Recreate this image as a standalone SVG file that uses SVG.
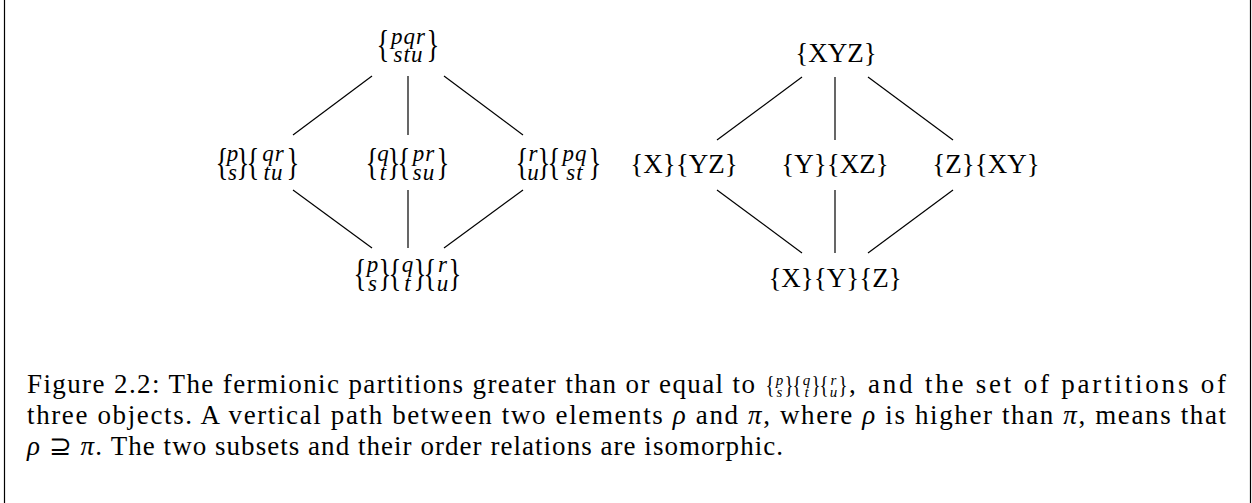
<svg xmlns="http://www.w3.org/2000/svg" width="1252" height="503" viewBox="0 0 1252 503">
<style>
.br{font-family:"Liberation Serif",serif;font-size:37px;text-anchor:middle;fill:#000}
.mi{font-family:"Liberation Serif",serif;font-style:italic;font-size:23px;text-anchor:middle;letter-spacing:1px;fill:#000}
.rm{font-family:"Liberation Serif",serif;font-size:27px;text-anchor:middle;fill:#000}
.cap{font-family:"Liberation Serif",serif;font-size:27px;fill:#000}
.cbr{font-family:"Liberation Serif",serif;font-size:25px;text-anchor:middle;fill:#000}
.cmi{font-family:"Liberation Serif",serif;font-style:italic;font-size:15px;text-anchor:middle;fill:#000}
.edge{stroke:#000;stroke-width:1.2;fill:none}
.frame{stroke:#000;stroke-width:1.2}
</style>
<rect width="1252" height="503" fill="#fff"/>
<line class="frame" x1="4.5" y1="0" x2="4.5" y2="503"/>
<line class="frame" x1="1250.5" y1="0" x2="1250.5" y2="503"/>

<g id="connectors">
<line class="edge" x1="372" y1="76" x2="293" y2="135"/>
<line class="edge" x1="408" y1="76" x2="408" y2="135"/>
<line class="edge" x1="444" y1="76" x2="523" y2="135"/>
<line class="edge" x1="293" y1="190" x2="372" y2="248"/>
<line class="edge" x1="408" y1="190" x2="408" y2="248"/>
<line class="edge" x1="523" y1="190" x2="444" y2="248"/>
<line class="edge" x1="802" y1="77" x2="717" y2="140"/>
<line class="edge" x1="835" y1="77" x2="835" y2="140"/>
<line class="edge" x1="868" y1="77" x2="953" y2="140"/>
<line class="edge" x1="717" y1="190" x2="802" y2="253"/>
<line class="edge" x1="835" y1="190" x2="835" y2="253"/>
<line class="edge" x1="953" y1="190" x2="868" y2="253"/>
</g>

<g id="f-top">
<text class="br" transform="translate(383,57) scale(0.72,1)">{</text>
<text class="mi" x="408.5" y="44">pqr</text>
<text class="mi" x="408.5" y="62">stu</text>
<text class="br" transform="translate(433,57) scale(0.72,1)">}</text>
</g>

<g id="f-ps-qrtu">
<text class="br" transform="translate(222,175) scale(0.72,1)">{</text>
<text class="mi" x="233" y="161">p</text>
<text class="mi" x="233" y="180">s</text>
<text class="br" transform="translate(243,175) scale(0.72,1)">}</text>
<text class="br" transform="translate(253,175) scale(0.72,1)">{</text>
<text class="mi" x="273.5" y="161">qr</text>
<text class="mi" x="273.5" y="180">tu</text>
<text class="br" transform="translate(293,175) scale(0.72,1)">}</text>
</g>

<g id="f-qt-prsu">
<text class="br" transform="translate(372,175) scale(0.72,1)">{</text>
<text class="mi" x="383.5" y="161">q</text>
<text class="mi" x="383.5" y="180">t</text>
<text class="br" transform="translate(394,175) scale(0.72,1)">}</text>
<text class="br" transform="translate(404,175) scale(0.72,1)">{</text>
<text class="mi" x="424" y="161">pr</text>
<text class="mi" x="424" y="180">su</text>
<text class="br" transform="translate(443,175) scale(0.72,1)">}</text>
</g>

<g id="f-ru-pqst">
<text class="br" transform="translate(522,175) scale(0.72,1)">{</text>
<text class="mi" x="533.5" y="161">r</text>
<text class="mi" x="533.5" y="180">u</text>
<text class="br" transform="translate(544,175) scale(0.72,1)">}</text>
<text class="br" transform="translate(554,175) scale(0.72,1)">{</text>
<text class="mi" x="575" y="161">pq</text>
<text class="mi" x="575" y="180">st</text>
<text class="br" transform="translate(595,175) scale(0.72,1)">}</text>
</g>

<g id="f-bottom">
<text class="br" transform="translate(360,286) scale(0.72,1)">{</text>
<text class="mi" x="373" y="272">p</text>
<text class="mi" x="373" y="291">s</text>
<text class="br" transform="translate(385,286) scale(0.72,1)">}</text>
<text class="br" transform="translate(395,286) scale(0.72,1)">{</text>
<text class="mi" x="408" y="272">q</text>
<text class="mi" x="408" y="291">t</text>
<text class="br" transform="translate(420,286) scale(0.72,1)">}</text>
<text class="br" transform="translate(430,286) scale(0.72,1)">{</text>
<text class="mi" x="443" y="272">r</text>
<text class="mi" x="443" y="291">u</text>
<text class="br" transform="translate(455,286) scale(0.72,1)">}</text>
</g>

<g id="p-xyz"><text class="rm" x="836" y="62">{XYZ}</text></g>
<g id="p-x-yz"><text class="rm" x="684" y="173">{X}{YZ}</text></g>
<g id="p-y-xz"><text class="rm" x="835" y="173">{Y}{XZ}</text></g>
<g id="p-z-xy"><text class="rm" x="986" y="173">{Z}{XY}</text></g>
<g id="p-x-y-z"><text class="rm" x="835" y="287">{X}{Y}{Z}</text></g>

<g id="caption">
<text class="cap" x="27" y="393" textLength="728" lengthAdjust="spacing">Figure 2.2: The fermionic partitions greater than or equal to</text>
<text class="cbr" transform="translate(770,393) scale(0.75,1)">{</text>
<text class="cmi" x="779.5" y="385">p</text>
<text class="cmi" x="779.5" y="397">s</text>
<text class="cbr" transform="translate(789,393) scale(0.75,1)">}</text>
<text class="cbr" transform="translate(797,393) scale(0.75,1)">{</text>
<text class="cmi" x="806.5" y="385">q</text>
<text class="cmi" x="806.5" y="397">t</text>
<text class="cbr" transform="translate(816,393) scale(0.75,1)">}</text>
<text class="cbr" transform="translate(824,393) scale(0.75,1)">{</text>
<text class="cmi" x="833.5" y="385">r</text>
<text class="cmi" x="833.5" y="397">u</text>
<text class="cbr" transform="translate(843,393) scale(0.75,1)">}</text>
<text class="cap" x="849" y="393" textLength="377" lengthAdjust="spacing">, and the set of partitions of</text>
<text class="cap" x="27" y="424" textLength="1199" lengthAdjust="spacing">three objects. A vertical path between two elements <tspan font-style="italic">ρ</tspan> and <tspan font-style="italic">π</tspan>, where <tspan font-style="italic">ρ</tspan> is higher than <tspan font-style="italic">π</tspan>, means that</text>
<text class="cap" x="27" y="455" textLength="756" lengthAdjust="spacing"><tspan font-style="italic">ρ</tspan> ⊇ <tspan font-style="italic">π</tspan>. The two subsets and their order relations are isomorphic.</text>
</g>
</svg>
